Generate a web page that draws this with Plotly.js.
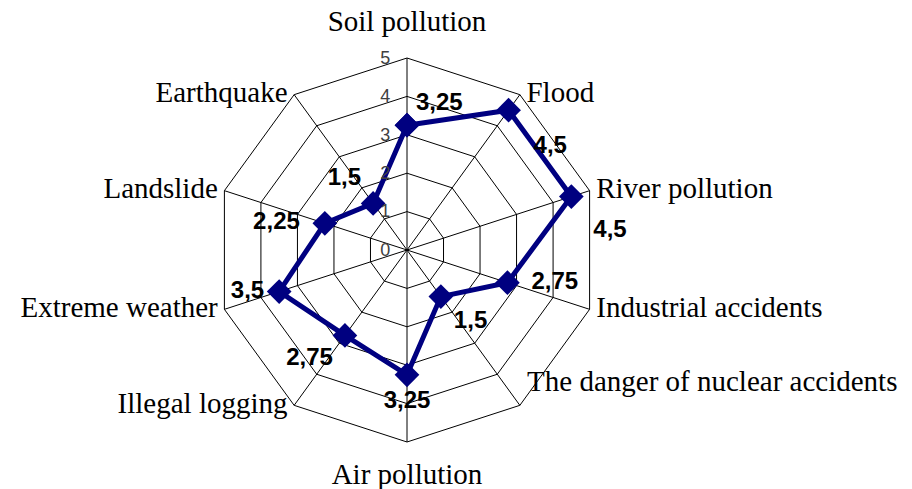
<!DOCTYPE html>
<html>
<head>
<meta charset="utf-8">
<script src="https://cdn.plot.ly/plotly-3.0.1.min.js"></script>
<style>html,body{margin:0;padding:0;background:#fff;}#chart{width:912px;height:489px;}</style>
</head>
<body>
<div id="chart"></div>
<script>
const categories = ["Soil pollution", "Flood", "River pollution", "Industrial accidents",
  "The danger of nuclear accidents", "Air pollution", "Illegal logging",
  "Extreme weather", "Landslide", "Earthquake"];
const values = [3.25, 4.5, 4.5, 2.75, 1.5, 3.25, 2.75, 3.5, 2.25, 1.5];
const labelPositions = ["top right", "bottom right", "bottom right", "middle right",
  "bottom right", "bottom center", "bottom left", "middle left", "middle left", "top left"];
// distance (px) of each value label from its marker
const labelPadding = [9, 25, 22, 24, 13, 15, 12, 15, 25, 12];
const categoryLabelPositions = ["top center", "middle right", "middle right", "middle right",
  "top right", "bottom center", "middle left", "middle left", "middle left", "middle left"];
const radialTicks = [0, 1, 2, 3, 4, 5];
const radialMax = 5;

const theta = categories.concat([categories[0]]);
const r = values.concat([values[0]]);
const valueText = values.map(v => String(v).replace('.', ','));

// invisible spacer marker size controls label padding: pad = size/1.6 + 1
const padToSize = p => 1.6 * (p - 1);

const catPad = categoryLabelPositions.map(p =>
  (p === 'top center' || p === 'bottom center') ? 30 :
  (p === 'top right' ? 10 : 9));

const dataTrace = {
  type: 'scatterpolar',
  r: r,
  theta: theta,
  mode: 'lines+markers',
  line: {color: '#000080', width: 5},
  marker: {symbol: 'diamond', size: 19, color: '#000080'},
  cliponaxis: false,
  hoverinfo: 'none'
};

const valueLabelTrace = {
  type: 'scatterpolar',
  r: values,
  theta: categories,
  mode: 'markers+text',
  text: valueText,
  textposition: labelPositions,
  textfont: {family: 'Liberation Sans, Arial, sans-serif', size: 24, color: '#000', weight: 'bold'},
  marker: {size: labelPadding.map(padToSize), color: 'rgba(0,0,0,0)', opacity: 0, line: {width: 0}},
  cliponaxis: false,
  hoverinfo: 'none'
};

const catTrace = {
  type: 'scatterpolar',
  r: categories.map(() => radialMax),
  theta: categories,
  mode: 'markers+text',
  text: categories,
  textposition: categoryLabelPositions,
  textfont: {family: 'Liberation Serif, Times New Roman, serif', size: 29, color: '#000'},
  marker: {size: catPad, color: 'rgba(0,0,0,0)', opacity: 0, line: {width: 0}},
  cliponaxis: false,
  hoverinfo: 'none'
};

const layout = {
  width: 912, height: 489,
  margin: {l: 0, r: 0, t: 0, b: 0},
  paper_bgcolor: '#fff',
  showlegend: false,
  polar: {
    domain: {x: [215/912, 599/912], y: [47/489, 431/489]},
    bgcolor: '#fff',
    gridshape: 'linear',
    angularaxis: {
      direction: 'clockwise',
      rotation: 90,
      showticklabels: false,
      gridcolor: '#000', gridwidth: 1,
      linecolor: '#000', linewidth: 1,
      showline: true,
      ticks: ''
    },
    radialaxis: {
      range: [0, radialMax],
      tickvals: radialTicks,
      ticktext: radialTicks.map(String),
      angle: 90,
      tickangle: 90,
      side: 'counterclockwise',
      ticks: 'outside',
      ticklen: 10,
      tickcolor: 'rgba(0,0,0,0)',
      tickfont: {family: 'Liberation Sans, Arial, sans-serif', size: 18, color: '#404040'},
      gridcolor: '#000', gridwidth: 1,
      showline: false
    }
  }
};

Plotly.newPlot('chart', [dataTrace, valueLabelTrace, catTrace], layout, {staticPlot: true});
</script>
</body>
</html>
